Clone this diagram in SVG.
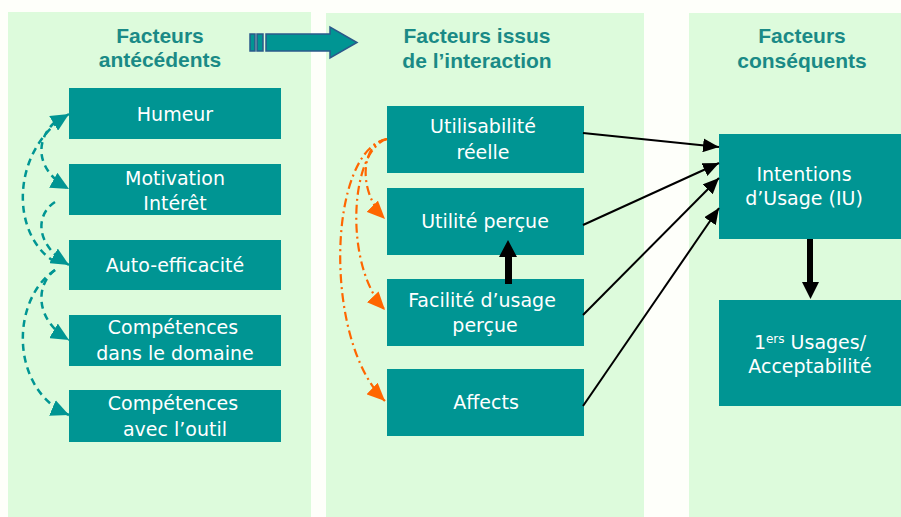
<svg xmlns="http://www.w3.org/2000/svg" width="901" height="517" viewBox="0 0 901 517">
<style>
.panel{fill:#DDFBDC}
.node{fill:#009593}
.nt{font-family:"DejaVu Sans","Liberation Sans",sans-serif;font-size:19px;fill:#FFFFFF;text-anchor:middle}
.tt{font-family:"Liberation Sans","DejaVu Sans",sans-serif;font-size:21px;font-weight:bold;fill:#1A8A86;text-anchor:middle}
.blk{stroke:#000;stroke-width:2;fill:none}
.teal{stroke:#009593;stroke-width:2.5;fill:none;stroke-dasharray:7 5}
.org{stroke:#FF6600;stroke-width:2.2;fill:none;stroke-dasharray:9 4 2 4}
</style>
<defs>
<marker id="mb" markerUnits="userSpaceOnUse" markerWidth="16" markerHeight="14" refX="16" refY="7" orient="auto"><path d="M0,0 L16,7 L0,14 Z" fill="#000"/></marker>
<marker id="mt" markerUnits="userSpaceOnUse" markerWidth="18" markerHeight="17" refX="18" refY="8.5" orient="auto"><path d="M0,0 L18,8.5 L0,17 Z" fill="#009593"/></marker>
<marker id="mo" markerUnits="userSpaceOnUse" markerWidth="18" markerHeight="16" refX="18" refY="8" orient="auto"><path d="M0,0 L18,8 L0,16 Z" fill="#FF6600"/></marker>
</defs>
<rect width="901" height="517" fill="#FEFFFA"/>
<g id="panels">
<rect class="panel" x="8" y="12" width="303" height="505"/>
<rect class="panel" x="326" y="13" width="318" height="504"/>
<rect class="panel" x="689" y="13" width="212" height="504"/>
</g>
<g id="titles">
<text class="tt" x="160" y="43">Facteurs</text>
<text class="tt" x="160" y="67">antécédents</text>
<text class="tt" x="477" y="43">Facteurs issus</text>
<text class="tt" x="477" y="68">de l’interaction</text>
<text class="tt" x="802" y="43">Facteurs</text>
<text class="tt" x="802" y="68">conséquents</text>
</g>
<g id="big-arrow" fill="#009593" stroke="#2B5A8A" stroke-width="1.5">
<rect x="250" y="34" width="5" height="17"/>
<rect x="257" y="34" width="6" height="17"/>
<path d="M266,34 H330 V27 L357,42.5 L330,58 V51 H266 Z"/>
</g>
<g id="n-humeur"><rect class="node" x="69" y="88" width="212" height="51"/><text class="nt" x="175" y="121">Humeur</text></g>
<g id="n-motivation"><rect class="node" x="69" y="164" width="212" height="51"/><text class="nt" x="175" y="185">Motivation</text><text class="nt" x="175" y="210">Intérêt</text></g>
<g id="n-auto"><rect class="node" x="69" y="240" width="212" height="50"/><text class="nt" x="175" y="272">Auto-efficacité</text></g>
<g id="n-domaine"><rect class="node" x="69" y="315" width="212" height="51"/><text class="nt" x="173" y="334">Compétences</text><text class="nt" x="175" y="360">dans le domaine</text></g>
<g id="n-outil"><rect class="node" x="69" y="390" width="212" height="52"/><text class="nt" x="173" y="410">Compétences</text><text class="nt" x="175" y="436">avec l’outil</text></g>
<g id="n-utilisabilite"><rect class="node" x="387" y="106" width="197" height="67"/><text class="nt" x="483" y="133">Utilisabilité</text><text class="nt" x="483" y="159">réelle</text></g>
<g id="n-utilite"><rect class="node" x="387" y="188" width="197" height="67"/><text class="nt" x="485" y="228">Utilité perçue</text></g>
<g id="n-facilite"><rect class="node" x="387" y="279" width="197" height="67"/><text class="nt" x="482" y="307">Facilité d’usage</text><text class="nt" x="485" y="332">perçue</text></g>
<g id="n-affects"><rect class="node" x="387" y="369" width="197" height="67"/><text class="nt" x="486" y="409">Affects</text></g>
<g id="n-intentions"><rect class="node" x="719" y="134" width="182" height="105"/><text class="nt" x="804" y="181">Intentions</text><text class="nt" x="804" y="205">d’Usage (IU)</text></g>
<g id="n-usages"><rect class="node" x="719" y="300" width="182" height="106"/><text class="nt" x="810" y="349">1<tspan font-size="12" dy="-6">ers</tspan><tspan dy="6"> Usages/</tspan></text><text class="nt" x="810" y="373">Acceptabilité</text></g>
<g id="connectors">
<line class="blk" x1="583" y1="133" x2="719" y2="147" marker-end="url(#mb)"/>
<line class="blk" x1="583" y1="225" x2="719" y2="163" marker-end="url(#mb)"/>
<line class="blk" x1="583" y1="315" x2="719" y2="178" marker-end="url(#mb)"/>
<line class="blk" x1="583" y1="406" x2="719" y2="208" marker-end="url(#mb)"/>
<path d="M505,284 V257 H499 L508,240 L517,257 H512 V284 Z" fill="#000"/>
<path d="M807,239 V282 H802 L810.5,299 L819,282 H813 V239 Z" fill="#000"/>
<path class="org" d="M387,139 C362,142 356,190 385,219" marker-end="url(#mo)"/>
<path class="org" d="M387,139 C350,150 343,265 385,310" marker-end="url(#mo)"/>
<path class="org" d="M387,139 C328,150 322,340 385,401" marker-end="url(#mo)"/>
<path class="teal" d="M55,262 C10,235 10,150 69,114" marker-end="url(#mt)"/>
<path class="teal" d="M55,122 C35,140 35,170 69,189" marker-end="url(#mt)"/>
<path class="teal" d="M55,202 C35,215 35,245 69,265" marker-end="url(#mt)"/>
<path class="teal" d="M55,270 C35,285 35,320 69,340" marker-end="url(#mt)"/>
<path class="teal" d="M55,270 C10,300 10,390 69,415" marker-end="url(#mt)"/>
</g>
</svg>
